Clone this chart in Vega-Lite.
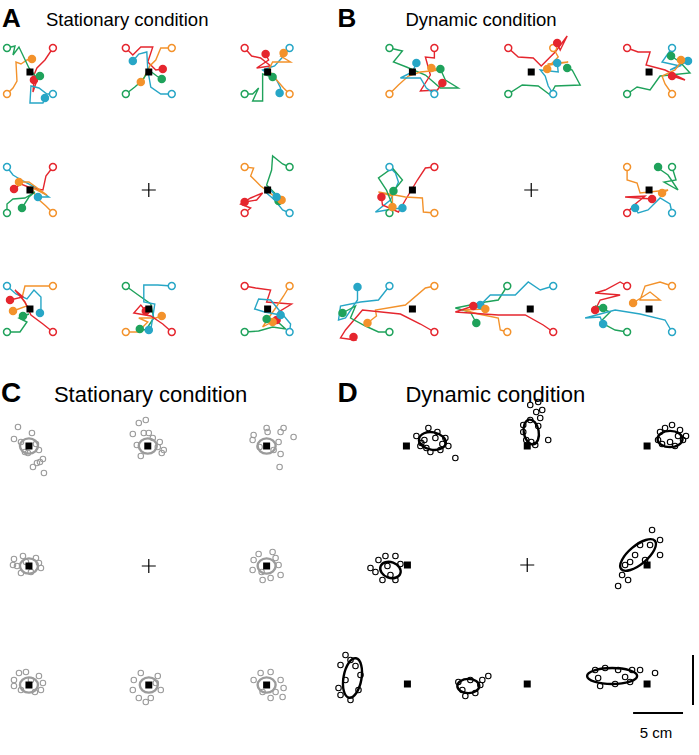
{
"$schema": "https://vega.github.io/schema/vega-lite/v6.json",
"width": 699, "height": 755,
"autosize": {"type": "fit", "contains": "padding"},
"padding": 0,
"background": "white",
"config": {"view": {"stroke": null}, "text": {"font": "Liberation Sans"}},
"datasets": {
"traj": [
{"id":"A11-1","s":"1","x":[6,12,16,15,20,26,31],"y":[94,88,81,62,64,60,59]},
{"id":"A11-2","s":"2","x":[52,44,36,33,36,32,33],"y":[48,60,68,75,80,92,80]},
{"id":"A11-3","s":"3","x":[52,46,38,30,29,42,44],"y":[94,94,88,86,103,103,98]},
{"id":"A11-4","s":"4","x":[6,14,12,18,28,36,39],"y":[48,46,55,47,68,78,76]},
{"id":"A12-2","s":"2","x":[125,132,140,152,147,155,162],"y":[48,55,47,47,62,70,69]},
{"id":"A12-1","s":"1","x":[171,160,155,149,143,140],"y":[48,48,60,66,78,82]},
{"id":"A12-3","s":"3","x":[171,160,150,147,146,138,132],"y":[94,94,87,70,52,54,61]},
{"id":"A12-4","s":"4","x":[125,134,142,148,156,161],"y":[94,87,80,70,76,79]},
{"id":"A13-2","s":"2","x":[244,251,260,270,256,268,265],"y":[48,56,58,66,68,60,54]},
{"id":"A13-3","s":"3","x":[289,283,274,262,276,280,279],"y":[48,56,66,70,80,88,93]},
{"id":"A13-1","s":"1","x":[289,283,276,268,272,290,280,283],"y":[94,88,80,70,62,62,56,53]},
{"id":"A13-4","s":"4","x":[244,252,258,252,262,262,272],"y":[94,94,88,101,101,74,77]},
{"id":"A21-3","s":"3","x":[6,12,22,32,48,37],"y":[167,175,181,186,197,197]},
{"id":"A21-2","s":"2","x":[52,45,42,30,20,13],"y":[167,176,190,188,184,189]},
{"id":"A21-1","s":"1","x":[52,45,36,30,46,28,18],"y":[213,206,198,187,195,182,182]},
{"id":"A21-4","s":"4","x":[6,6,12,24,34,28,21],"y":[213,204,199,198,192,197,208]},
{"id":"A23-4","s":"4","x":[289,282,272,271,266,278,278],"y":[167,164,156,170,185,197,201]},
{"id":"A23-1","s":"1","x":[244,253,250,260,272,281],"y":[167,168,176,186,195,200]},
{"id":"A23-2","s":"2","x":[244,250,240,250,262,256,244],"y":[213,208,204,198,193,200,202]},
{"id":"A23-3","s":"3","x":[289,282,274,266,270,276],"y":[213,210,200,193,190,197]},
{"id":"A31-3","s":"3","x":[6,15,26,33,40,40,39],"y":[286,294,299,290,297,310,313]},
{"id":"A31-1","s":"1","x":[52,24,21,26,12],"y":[286,286,298,306,311]},
{"id":"A31-2","s":"2","x":[52,42,30,24,14,22,9],"y":[332,324,315,302,290,297,300]},
{"id":"A31-4","s":"4","x":[6,19,26,18,28,22],"y":[332,332,322,318,314,316]},
{"id":"A32-4","s":"4","x":[125,136,150,153,145,139],"y":[286,294,304,318,330,329]},
{"id":"A32-3","s":"3","x":[171,157,143,143,154,150,148],"y":[286,285,285,302,304,330,330]},
{"id":"A32-1","s":"1","x":[125,137,147,138,155,161],"y":[332,332,322,318,318,316]},
{"id":"A32-2","s":"2","x":[171,162,150,133,140,145],"y":[332,324,316,313,305,311]},
{"id":"A33-2","s":"2","x":[244,255,270,266,291,278,276],"y":[286,288,290,302,304,312,320]},
{"id":"A33-1","s":"1","x":[289,283,275,270,262,275,272],"y":[286,296,308,315,327,320,322]},
{"id":"A33-3","s":"3","x":[289,290,285,270,258,254,264,280],"y":[332,324,318,300,299,309,312,315]},
{"id":"A33-4","s":"4","x":[244,258,272,285,275,266],"y":[332,331,327,329,320,319]},
{"id":"B11-4","s":"4","x":[389,402,393,406,425,440,458,445,440],"y":[48,51,62,67,75,88,88,80,69]},
{"id":"B11-2","s":"2","x":[434,434,425,430,420,437,442],"y":[48,58,57,75,91,90,83]},
{"id":"B11-1","s":"1","x":[389,398,408,420,440,431],"y":[94,85,76,72,70,68]},
{"id":"B11-3","s":"3","x":[434,426,420,400,412,416],"y":[94,88,78,78,72,63]},
{"id":"B12-2","s":"2","x":[508,518,533,541,555,567,560,557],"y":[48,57,58,66,52,36,50,43]},
{"id":"B12-1","s":"1","x":[553,558,550,568,548,547],"y":[48,57,65,62,64,69]},
{"id":"B12-4","s":"4","x":[508,522,538,550,555,580,572,567],"y":[94,85,86,95,86,85,70,68]},
{"id":"B12-3","s":"3","x":[553,548,545,540,558,557],"y":[94,86,76,70,72,63]},
{"id":"B13-2","s":"2","x":[627,638,650,646,665,685,672],"y":[48,52,52,65,70,80,76]},
{"id":"B13-3","s":"3","x":[672,667,662,680,670,688],"y":[48,55,62,66,70,61]},
{"id":"B13-4","s":"4","x":[627,637,650,660,690,680,671],"y":[94,87,90,76,73,62,56]},
{"id":"B13-1","s":"1","x":[672,665,662,675,684,681],"y":[94,84,76,70,58,60]},
{"id":"B21-3","s":"3","x":[389,395,398,390,375,392,402],"y":[167,173,182,200,212,209,208]},
{"id":"B21-2","s":"2","x":[434,425,417,405,398,382,381],"y":[167,168,180,200,212,205,197]},
{"id":"B21-1","s":"1","x":[434,423,422,405,378,392,392],"y":[213,212,198,197,192,196,207]},
{"id":"B21-4","s":"4","x":[389,392,386,378,392,402,393],"y":[213,205,190,178,168,180,191]},
{"id":"B23-4","s":"4","x":[672,676,664,678,668,655,658],"y":[167,180,182,190,175,166,167]},
{"id":"B23-1","s":"1","x":[627,627,637,640,668,662],"y":[167,180,183,193,190,193]},
{"id":"B23-2","s":"2","x":[627,634,645,625,652],"y":[213,205,196,197,199]},
{"id":"B23-3","s":"3","x":[672,670,660,648,638,635],"y":[213,204,198,210,213,208]},
{"id":"B31-3","s":"3","x":[389,378,360,340,338,345,357,357],"y":[286,300,302,306,320,318,300,287]},
{"id":"B31-1","s":"1","x":[434,425,405,375,376,367],"y":[286,288,305,310,316,323]},
{"id":"B31-2","s":"2","x":[434,420,400,362,345,340,355,353],"y":[332,324,314,310,330,338,340,337]},
{"id":"B31-4","s":"4","x":[389,378,365,350,355,342],"y":[332,332,326,318,306,313]},
{"id":"B32-4","s":"4","x":[507,498,485,455,470,476],"y":[286,300,302,308,312,323]},
{"id":"B32-3","s":"3","x":[553,540,528,515,490,480],"y":[286,290,282,295,295,305]},
{"id":"B32-1","s":"1","x":[507,500,498,478,463,485],"y":[332,330,318,314,310,309]},
{"id":"B32-2","s":"2","x":[553,543,525,498,455,473],"y":[332,325,315,315,312,306]},
{"id":"B33-2","s":"2","x":[627,620,605,595,620,600,595],"y":[286,282,290,293,295,300,310]},
{"id":"B33-1","s":"1","x":[672,660,645,640,660,650,633],"y":[286,282,286,300,300,292,303]},
{"id":"B33-4","s":"4","x":[627,615,600,610,595,603],"y":[332,330,322,312,306,308]},
{"id":"B33-3","s":"3","x":[672,665,640,615,585,600,603],"y":[332,320,314,310,318,317,324]}
],
"targets": [
{"p":"A","x":29,"y":72},{"p":"A","x":148,"y":72},{"p":"A","x":267,"y":72},
{"p":"A","x":29,"y":190},{"p":"A","x":267,"y":190},
{"p":"A","x":29,"y":309},{"p":"A","x":148,"y":309},{"p":"A","x":267,"y":309},
{"p":"B","x":412,"y":72},{"p":"B","x":531,"y":72},{"p":"B","x":649,"y":72},
{"p":"B","x":412,"y":190},{"p":"B","x":649,"y":190},
{"p":"B","x":412,"y":309},{"p":"B","x":530,"y":309},{"p":"B","x":649,"y":309},
{"p":"C","x":28,"y":446},{"p":"C","x":147,"y":446},{"p":"C","x":266,"y":446},
{"p":"C","x":28,"y":566},{"p":"C","x":266,"y":566},
{"p":"C","x":28,"y":685},{"p":"C","x":148,"y":685},{"p":"C","x":266,"y":685},
{"p":"D","x":406,"y":446},{"p":"D","x":527,"y":446},{"p":"D","x":647,"y":446},
{"p":"D","x":407,"y":565},{"p":"D","x":647,"y":565},
{"p":"D","x":407,"y":684},{"p":"D","x":527,"y":684},{"p":"D","x":647,"y":684}
],
"centers": [
{"p":"A","x":148,"y":190},{"p":"B","x":531,"y":190},{"p":"C","x":148,"y":566},{"p":"D","x":527,"y":565}
],
"pts": [
{"p":"C","x":[17,13,31,38,42,39,32,43,36,27,20,24,35],"y":[427,439,433,450,459,462,467,473,463,453,442,452,444]},
{"p":"C","x":[138,145,132,143,148,159,163,161,140,157,152,136],"y":[423,420,434,433,433,442,450,453,456,447,438,445]},
{"p":"C","x":[266,283,293,280,253,252,278,280,279,267,273,259],"y":[428,428,437,432,435,440,442,454,467,432,450,447]},
{"p":"C","x":[13,16,22,35,38,20,30,40,12,25],"y":[559,566,556,558,563,573,572,568,565,562]},
{"p":"C","x":[253,258,261,275,278,280,270,262,272,252],"y":[560,554,572,558,565,575,578,580,552,570]},
{"p":"C","x":[13,18,25,38,42,40,20,13,30,34],"y":[680,673,672,676,683,690,690,686,680,692]},
{"p":"C","x":[133,140,157,160,150,138,145,132,155],"y":[680,673,676,690,698,698,702,690,683]},
{"p":"C","x":[253,260,270,280,283,275,282,270,262],"y":[680,673,672,680,688,692,697,698,692]},
{"p":"D","x":[416,420,428,437,445,448,440,430,424,455,421,435,442,426],"y":[436,446,428,432,438,446,450,452,440,458,443,438,444,448]},
{"p":"D","x":[523,530,536,540,526,535,548,523,538,531,538,542,530],"y":[425,420,412,418,440,445,440,432,426,442,402,410,405]},
{"p":"D","x":[660,665,672,680,683,675,662,686,670,658,678],"y":[432,428,425,430,440,446,444,436,442,440,436]},
{"p":"D","x":[378,385,395,400,375,382,395,390,370,387],"y":[560,556,556,564,572,580,580,575,568,566]},
{"p":"D","x":[652,660,650,640,635,630,622,628,618,645,625,660],"y":[530,540,545,545,555,562,575,580,586,560,565,555]},
{"p":"D","x":[340,350,355,345,358,340,350,360,338,345],"y":[665,660,666,680,690,695,700,675,688,655]},
{"p":"D","x":[458,462,470,480,482,475,465,488],"y":[682,690,680,685,680,693,696,676]},
{"p":"D","x":[595,598,605,618,625,630,615,600,640,655,632],"y":[670,678,668,670,677,682,684,686,670,673,670]}
],
"ell": [
{"e":"C1","p":"C","x":28,"y":446,"major":18,"angle":0},
{"e":"C2","p":"C","x":147,"y":446,"major":18,"angle":0},
{"e":"C3","p":"C","x":266,"y":446,"major":18,"angle":0},
{"e":"C4","p":"C","x":28,"y":566,"major":18,"angle":0},
{"e":"C5","p":"C","x":266,"y":566,"major":18,"angle":0},
{"e":"C6","p":"C","x":28,"y":685,"major":18,"angle":0},
{"e":"C7","p":"C","x":148,"y":685,"major":18,"angle":0},
{"e":"C8","p":"C","x":266,"y":685,"major":18,"angle":0},
{"e":"D1","p":"D","x":432,"y":441,"major":27,"angle":10},
{"e":"D2","p":"D","x":531,"y":432,"major":25,"angle":80},
{"e":"D3","p":"D","x":670,"y":439,"major":25,"angle":0},
{"e":"D4","p":"D","x":390,"y":570,"major":21,"angle":20},
{"e":"D5","p":"D","x":638,"y":555,"major":44,"angle":320},
{"e":"D6","p":"D","x":352,"y":678,"major":40,"angle":100},
{"e":"D7","p":"D","x":468,"y":686,"major":22,"angle":0},
{"e":"D8","p":"D","x":612,"y":676,"major":50,"angle":0}
],
"bar": [
{"x":633,"y":713,"x2":683,"y2":713},
{"x":693,"y":655,"x2":693,"y2":705}
],
"letters": [
{"t":"A","row":"top","x":1,"y":27},{"t":"B","row":"top","x":337,"y":27},
{"t":"C","row":"bottom","x":0,"y":402},{"t":"D","row":"bottom","x":337,"y":402}
],
"titles": [
{"t":"Stationary condition","row":"top","x":45,"y":26},
{"t":"Dynamic condition","row":"top","x":405,"y":26},
{"t":"Stationary condition","row":"bottom","x":53,"y":402},
{"t":"Dynamic condition","row":"bottom","x":405,"y":402}
],
"scalelabel": [{"t":"5 cm","x":656,"y":733}]
},
"encoding": {
"x": {"field":"x","type":"quantitative","scale":{"domain":[0,699],"nice":false,"zero":false},"axis":null},
"y": {"field":"y","type":"quantitative","scale":{"domain":[0,755],"nice":false,"zero":false,"reverse":true},"axis":null}
},
"layer": [
{
"data":{"name":"traj"},
"transform":[{"flatten":["x","y"]},{"window":[{"op":"row_number","as":"i"}],"groupby":["id"]}],
"mark":{"type":"line","strokeWidth":1.4,"clip":false},
"encoding":{
"color":{"field":"s","type":"nominal","scale":{"domain":["1","2","3","4"],"range":["#F3922B","#E5262E","#27A6C6","#1FA25B"]},"legend":null},
"detail":{"field":"id"},
"order":{"field":"i","type":"quantitative"}
}
},
{
"data":{"name":"traj"},
"transform":[{"flatten":["x","y"]},{"window":[{"op":"row_number","as":"i"}],"groupby":["id"]},{"filter":"datum.i == 1"}],
"mark":{"type":"point","shape":"circle","filled":false,"fill":"white","strokeWidth":1.5,"size":48,"opacity":1},
"encoding":{"color":{"field":"s","type":"nominal","legend":null}}
},
{
"data":{"name":"traj"},
"transform":[{"flatten":["x","y"]},{"window":[{"op":"row_number","as":"i"}],"groupby":["id"]},{"joinaggregate":[{"op":"max","field":"i","as":"maxi"}],"groupby":["id"]},{"filter":"datum.i == datum.maxi"}],
"mark":{"type":"point","shape":"circle","filled":true,"size":72,"opacity":1},
"encoding":{"color":{"field":"s","type":"nominal","legend":null}}
},
{
"data":{"name":"pts"},
"transform":[{"flatten":["x","y"]}],
"mark":{"type":"point","shape":"circle","filled":false,"strokeWidth":1.1,"size":30,"opacity":1},
"encoding":{"stroke":{"field":"p","type":"nominal","scale":{"domain":["C","D"],"range":["#9b9b9b","#000000"]},"legend":null}}
},
{
"data":{"name":"ell"},
"mark":{"type":"point","filled":false,"strokeWidth":2.4,"opacity":1},
"encoding":{
"stroke":{"field":"p","type":"nominal","legend":null},
"shape":{"field":"e","type":"nominal","legend":null,"scale":{"domain":["C1","C2","C3","C4","C5","C6","C7","C8","D1","D2","D3","D4","D5","D6","D7","D8"],"range":[
"M-1,0A1,0.85,0,1,1,1,0A1,0.85,0,1,1,-1,0Z",
"M-1,0A1,0.85,0,1,1,1,0A1,0.85,0,1,1,-1,0Z",
"M-1,0A1,0.85,0,1,1,1,0A1,0.85,0,1,1,-1,0Z",
"M-1,0A1,0.85,0,1,1,1,0A1,0.85,0,1,1,-1,0Z",
"M-1,0A1,0.85,0,1,1,1,0A1,0.85,0,1,1,-1,0Z",
"M-1,0A1,0.85,0,1,1,1,0A1,0.85,0,1,1,-1,0Z",
"M-1,0A1,0.85,0,1,1,1,0A1,0.85,0,1,1,-1,0Z",
"M-1,0A1,0.85,0,1,1,1,0A1,0.85,0,1,1,-1,0Z",
"M-1,0A1,0.65,0,1,1,1,0A1,0.65,0,1,1,-1,0Z",
"M-1,0A1,0.6,0,1,1,1,0A1,0.6,0,1,1,-1,0Z",
"M-1,0A1,0.65,0,1,1,1,0A1,0.65,0,1,1,-1,0Z",
"M-1,0A1,0.75,0,1,1,1,0A1,0.75,0,1,1,-1,0Z",
"M-1,0A1,0.42,0,1,1,1,0A1,0.42,0,1,1,-1,0Z",
"M-1,0A1,0.45,0,1,1,1,0A1,0.45,0,1,1,-1,0Z",
"M-1,0A1,0.65,0,1,1,1,0A1,0.65,0,1,1,-1,0Z",
"M-1,0A1,0.32,0,1,1,1,0A1,0.32,0,1,1,-1,0Z"]}},
"size":{"field":"major","type":"quantitative","legend":null,"scale":{"type":"pow","exponent":2,"domain":[0,100],"range":[0,10000]}},
"angle":{"field":"angle","type":"quantitative","scale":null}
}
},
{
"data":{"name":"targets"},
"mark":{"type":"square","color":"black","size":49,"opacity":1}
},
{
"data":{"name":"centers"},
"mark":{"type":"point","shape":"M-1,0L1,0M0,-1L0,1","filled":false,"color":"black","strokeWidth":1.2,"size":196,"opacity":1}
},
{
"data":{"name":"bar"},
"mark":{"type":"rule","color":"black","strokeWidth":2},
"encoding":{"x2":{"field":"x2"},"y2":{"field":"y2"}}
},
{
"data":{"name":"letters"},
"transform":[{"filter":"datum.row == 'top'"}],
"mark":{"type":"text","fontWeight":"bold","fontSize":26,"align":"left","baseline":"alphabetic","color":"black"},
"encoding":{"text":{"field":"t"}}
},
{
"data":{"name":"letters"},
"transform":[{"filter":"datum.row == 'bottom'"}],
"mark":{"type":"text","fontWeight":"bold","fontSize":28,"align":"left","baseline":"alphabetic","color":"black"},
"encoding":{"text":{"field":"t"}}
},
{
"data":{"name":"titles"},
"transform":[{"filter":"datum.row == 'top'"}],
"mark":{"type":"text","fontSize":18.5,"align":"left","baseline":"alphabetic","color":"black"},
"encoding":{"text":{"field":"t"}}
},
{
"data":{"name":"titles"},
"transform":[{"filter":"datum.row == 'bottom'"}],
"mark":{"type":"text","fontSize":22,"align":"left","baseline":"alphabetic","color":"black"},
"encoding":{"text":{"field":"t"}}
},
{
"data":{"name":"scalelabel"},
"mark":{"type":"text","fontSize":15,"align":"center","baseline":"middle","color":"black"},
"encoding":{"text":{"field":"t"}}
}
]
}
